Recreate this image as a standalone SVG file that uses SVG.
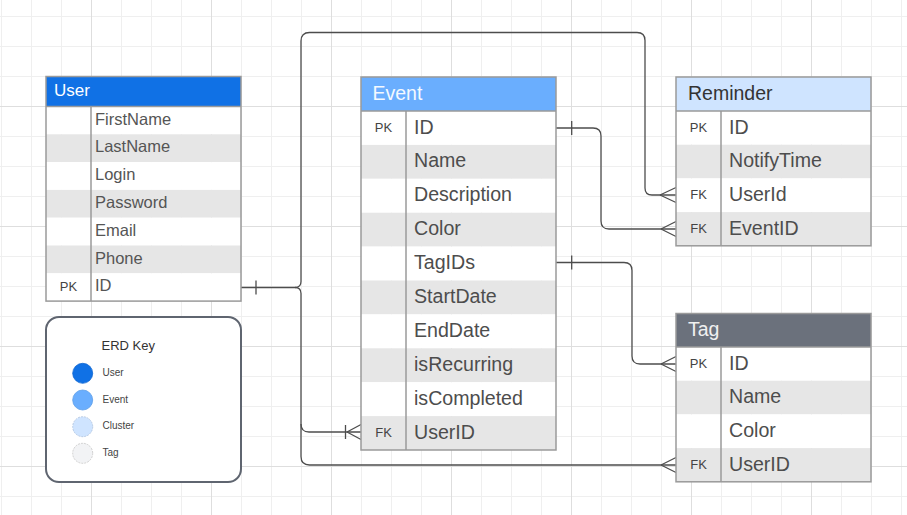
<svg xmlns="http://www.w3.org/2000/svg" width="907" height="515" viewBox="0 0 907 515">
<defs>
<pattern id="minor" width="30" height="30" patternUnits="userSpaceOnUse" x="1" y="16">
<path d="M0.5,0 V30 M0,0.5 H30" fill="none" stroke="#efefef" stroke-width="1"/>
</pattern>
<pattern id="major" width="120" height="120" patternUnits="userSpaceOnUse" x="91" y="106">
<path d="M0.5,0 V120 M0,0.5 H120" fill="none" stroke="#dedede" stroke-width="1"/>
</pattern>
<style>
.t{font-family:"Liberation Sans",Arial,sans-serif;}
.row{fill:#ffffff;}
.alt{fill:#e6e6e6;}
.bd{fill:none;stroke:#9a9a9a;stroke-width:1.5;}
.f16{font-size:16.5px;fill:#555555;}
.f19{font-size:19.6px;fill:#4d4d4d;}
.k{font-size:13px;fill:#444444;text-anchor:middle;}
.c{fill:none;stroke:#4d4d4d;stroke-width:1.3;}
.lg{font-size:10px;fill:#444444;}
</style>
</defs>
<rect x="0" y="0" width="907" height="515" fill="#ffffff"/>
<rect x="0" y="0" width="907" height="515" fill="url(#minor)"/>
<rect x="0" y="0" width="907" height="515" fill="url(#major)"/>

<g id="connectors">
<path class="c" d="M241,287.5 H295 Q301,287.5 301,281.5 V41 Q301,32.5 309.5,32.5 H637 Q645,32.5 645,40.5 V188 Q645,195 652,195 H676"/>
<path class="c" d="M295,287.5 Q301,287.5 301,293.5 V424 Q301,432 309,432 H361"/>
<path class="c" d="M301,424 V456.5 Q301,465 309.5,465 H676"/>
<path class="c" d="M556,128 H593 Q601,128 601,136 V221 Q601,229 609,229 H676"/>
<path class="c" d="M556,262.5 H624 Q632,262.5 632,270.5 V356 Q632,364 640,364 H676"/>
<path class="c" d="M256,280.5 V294.5 M571.7,121 V135 M571.7,255.5 V269.5 M345.5,425 V439"/>
<path class="c" d="M660,195 L676,187.5 M660,195 L676,202.5 M661,229 L676,221.5 M661,229 L676,236.5 M661,364 L676,356.5 M661,364 L676,371.5 M661,465 L676,457.5 M661,465 L676,472.5 M347,432 L361,424.5 M347,432 L361,439.5"/>
</g>

<g id="user" class="t">
<rect x="46" y="76.5" width="195" height="30" fill="#1071e5"/>
<rect class="row" x="46" y="106.5" width="195" height="27.8"/>
<rect class="alt" x="46" y="134.3" width="195" height="27.8"/>
<rect class="row" x="46" y="162.1" width="195" height="27.8"/>
<rect class="alt" x="46" y="189.9" width="195" height="27.8"/>
<rect class="row" x="46" y="217.7" width="195" height="27.8"/>
<rect class="alt" x="46" y="245.5" width="195" height="27.8"/>
<rect class="row" x="46" y="273.3" width="195" height="27.8"/>
<path class="bd" d="M46,106.5 H241 M91,106.5 V301.1"/>
<rect class="bd" x="46" y="76.5" width="195" height="224.6"/>
<text x="54" y="95.7" font-size="17" fill="#ffffff">User</text>
<text class="f16" x="95" y="124.5">FirstName</text>
<text class="f16" x="95" y="152.3">LastName</text>
<text class="f16" x="95" y="180.1">Login</text>
<text class="f16" x="95" y="207.9">Password</text>
<text class="f16" x="95" y="235.7">Email</text>
<text class="f16" x="95" y="263.5">Phone</text>
<text class="f16" x="95" y="291.3">ID</text>
<text class="k" x="68.5" y="291">PK</text>
</g>

<g id="event" class="t">
<rect x="361" y="77" width="195" height="34" fill="#6aaefe"/>
<rect class="row" x="361" y="111" width="195" height="33.9"/>
<rect class="alt" x="361" y="144.9" width="195" height="33.9"/>
<rect class="row" x="361" y="178.8" width="195" height="33.9"/>
<rect class="alt" x="361" y="212.7" width="195" height="33.9"/>
<rect class="row" x="361" y="246.6" width="195" height="33.9"/>
<rect class="alt" x="361" y="280.5" width="195" height="33.9"/>
<rect class="row" x="361" y="314.4" width="195" height="33.9"/>
<rect class="alt" x="361" y="348.3" width="195" height="33.9"/>
<rect class="row" x="361" y="382.2" width="195" height="33.9"/>
<rect class="alt" x="361" y="416.1" width="195" height="33.9"/>
<path class="bd" d="M361,111 H556 M406,111 V450"/>
<rect class="bd" x="361" y="77" width="195" height="373"/>
<text x="372.5" y="99.5" font-size="19.5" fill="#f4f9ff">Event</text>
<text class="f19" x="414" y="133.5">ID</text>
<text class="f19" x="414" y="167.4">Name</text>
<text class="f19" x="414" y="201.3">Description</text>
<text class="f19" x="414" y="235.2">Color</text>
<text class="f19" x="414" y="269.1">TagIDs</text>
<text class="f19" x="414" y="303">StartDate</text>
<text class="f19" x="414" y="336.9">EndDate</text>
<text class="f19" x="414" y="370.8">isRecurring</text>
<text class="f19" x="414" y="404.7">isCompleted</text>
<text class="f19" x="414" y="438.6">UserID</text>
<text class="k" x="383.5" y="131.5">PK</text>
<text class="k" x="383.5" y="436.6">FK</text>
</g>

<g id="reminder" class="t">
<rect x="676" y="77" width="195" height="34" fill="#cfe4ff"/>
<rect class="row" x="676" y="111" width="195" height="33.7"/>
<rect class="alt" x="676" y="144.7" width="195" height="33.7"/>
<rect class="row" x="676" y="178.4" width="195" height="33.7"/>
<rect class="alt" x="676" y="212.1" width="195" height="33.7"/>
<path class="bd" d="M676,111 H871 M721,111 V245.8"/>
<rect class="bd" x="676" y="77" width="195" height="168.8"/>
<text x="688" y="99.5" font-size="19.5" fill="#333333">Reminder</text>
<text class="f19" x="729" y="133.7">ID</text>
<text class="f19" x="729" y="167.4">NotifyTime</text>
<text class="f19" x="729" y="201.1">UserId</text>
<text class="f19" x="729" y="234.8">EventID</text>
<text class="k" x="698.5" y="131.7">PK</text>
<text class="k" x="698.5" y="199.1">FK</text>
<text class="k" x="698.5" y="232.8">FK</text>
</g>

<g id="tag" class="t">
<rect x="676" y="313.5" width="195" height="33.5" fill="#6b717c"/>
<rect class="row" x="676" y="347" width="195" height="33.7"/>
<rect class="alt" x="676" y="380.7" width="195" height="33.7"/>
<rect class="row" x="676" y="414.4" width="195" height="33.7"/>
<rect class="alt" x="676" y="448.1" width="195" height="33.7"/>
<path class="bd" d="M676,347 H871 M721,347 V481.8"/>
<rect class="bd" x="676" y="313.5" width="195" height="168.3"/>
<text x="688" y="336" font-size="19.5" fill="#f0f0f0">Tag</text>
<text class="f19" x="729" y="369.7">ID</text>
<text class="f19" x="729" y="403.4">Name</text>
<text class="f19" x="729" y="437.1">Color</text>
<text class="f19" x="729" y="470.8">UserID</text>
<text class="k" x="698.5" y="367.7">PK</text>
<text class="k" x="698.5" y="468.8">FK</text>
</g>

<g id="erd-key" class="t">
<rect x="46" y="317" width="195" height="165" rx="13" ry="13" fill="#ffffff" stroke="#5f6570" stroke-width="2"/>
<text x="101.5" y="350" font-size="13" fill="#333333">ERD Key</text>
<circle cx="82.7" cy="373.3" r="10" fill="#1071e5" stroke="#0f66d0" stroke-width="0.8"/>
<circle cx="82.7" cy="400" r="10" fill="#6aaefe" stroke="#5d9ee8" stroke-width="0.8"/>
<circle cx="82.7" cy="426.7" r="10" fill="#cfe4ff" stroke="#aabfdc" stroke-width="0.8" stroke-dasharray="2,1"/>
<circle cx="82.7" cy="453.3" r="10" fill="#f2f3f5" stroke="#c4c4c4" stroke-width="0.8" stroke-dasharray="2,1"/>
<text class="lg" x="102.5" y="376">User</text>
<text class="lg" x="102.5" y="402.7">Event</text>
<text class="lg" x="102.5" y="429.3">Cluster</text>
<text class="lg" x="102.5" y="456">Tag</text>
</g>
</svg>
